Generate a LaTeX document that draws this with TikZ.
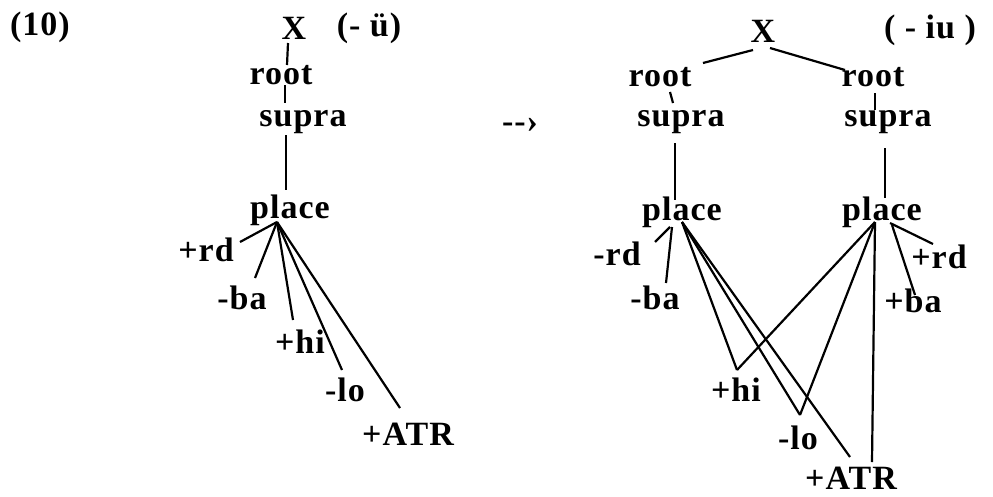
\documentclass[tikz,border=0pt]{standalone}
\usepackage{fontspec}
\setmainfont[LetterSpace=3]{Liberation Serif}
\usetikzlibrary{calc}
\begin{document}
\begin{tikzpicture}[x=1pt,y=-1pt,
  lbl/.style={inner sep=0pt, font=\fontsize{34}{40}\selectfont\bfseries},
  edge/.style={line width=2.2pt}]
\useasboundingbox (0,0) rectangle (993,496);
% ---------- left tree ----------
\node[lbl] (n10) at (40,27) {(10)};
\node[lbl] (X1) at (294,28) {X};
\node[lbl] (par1) at (369,28) {(- ü)};
\node[lbl] (root1) at (281,75) {root};
\node[lbl] (supra1) at (303,122) {supra};
\node[lbl] (place1) at (290,210) {place};
\node[lbl] (rd1) at (206,250) {+rd};
\node[lbl] (ba1) at (242,298) {-ba};
\node[lbl] (hi1) at (300,342) {+hi};
\node[lbl] (lo1) at (345,390) {-lo};
\node[lbl] (atr1) at (408,434) {+ATR};
\coordinate (F1) at ($(place1)+(-13,12)$);
\draw[edge] ($(X1)+(-6,15)$) -- ($(root1)+(6,-10)$);
\draw[edge] ($(root1)+(4,10)$) -- ($(supra1)+(-18,-19)$);
\draw[edge] ($(supra1)+(-17,13)$) -- ($(place1)+(-4,-20)$);
\draw[edge] (F1) -- ($(rd1)+(34,-8)$);
\draw[edge] (F1) -- ($(ba1)+(13,-20)$);
\draw[edge] (F1) -- ($(hi1)+(-7,-22)$);
\draw[edge] (F1) -- ($(lo1)+(-3,-20)$);
\draw[edge] (F1) -- ($(atr1)+(-8,-26)$);
% ---------- arrow ----------
\node[lbl] (arr) at (520,125) {-{}-›};
% ---------- right tree ----------
\node[lbl] (X2) at (763,31) {X};
\node[lbl] (par2) at (930,30) {( - iu )};
\node[lbl] (root2L) at (660,77) {root};
\node[lbl] (root2R) at (873,77) {root};
\node[lbl] (supra2L) at (681,122) {supra};
\node[lbl] (supra2R) at (888,122) {supra};
\node[lbl] (place2L) at (682,212) {place};
\node[lbl] (place2R) at (882,212) {place};
\node[lbl] (rd2L) at (617,254) {-rd};
\node[lbl] (ba2L) at (655,298) {-ba};
\node[lbl] (rd2R) at (939,257) {+rd};
\node[lbl] (ba2R) at (913,301) {+ba};
\node[lbl] (hi2) at (736,390) {+hi};
\node[lbl] (lo2) at (798,438) {-lo};
\node[lbl] (atr2) at (851,478) {+ATR};
\coordinate (F2L) at ($(place2L)+(0,10)$);
\coordinate (F2R) at ($(place2R)+(-7,10)$);
\coordinate (hiT) at ($(hi2)+(1,-20)$);
\coordinate (loT) at ($(lo2)+(2,-23)$);
\draw[edge] ($(X2)+(-10,19)$) -- ($(root2L)+(43,-14)$);
\draw[edge] ($(X2)+(7,17)$) -- ($(root2R)+(-28,-7)$);
\draw[edge] ($(root2L)+(10,15)$) -- ($(supra2L)+(-8,-19)$);
\draw[edge] ($(root2R)+(2,16)$) -- ($(supra2R)+(-13,-12)$);
\draw[edge] ($(supra2L)+(-6,21)$) -- ($(place2L)+(-7,-12)$);
\draw[edge] ($(supra2R)+(-3,26)$) -- ($(place2R)+(3,-14)$);
\draw[edge] ($(place2L)+(-12,15)$) -- ($(rd2L)+(38,-12)$);
\draw[edge] ($(place2L)+(-10,15)$) -- ($(ba2L)+(11,-15)$);
\draw[edge] (F2L) -- (hiT);
\draw[edge] (F2L) -- (loT);
\draw[edge] (F2L) -- ($(atr2)+(-1,-21)$);
\draw[edge] (F2R) -- (hiT);
\draw[edge] (F2R) -- (loT);
\draw[edge] (F2R) -- ($(atr2)+(21,-16)$);
\draw[edge] ($(place2R)+(8,11)$) -- ($(rd2R)+(-6,-13)$);
\draw[edge] ($(place2R)+(10,13)$) -- ($(ba2R)+(2,-6)$);
\end{tikzpicture}
\end{document}
